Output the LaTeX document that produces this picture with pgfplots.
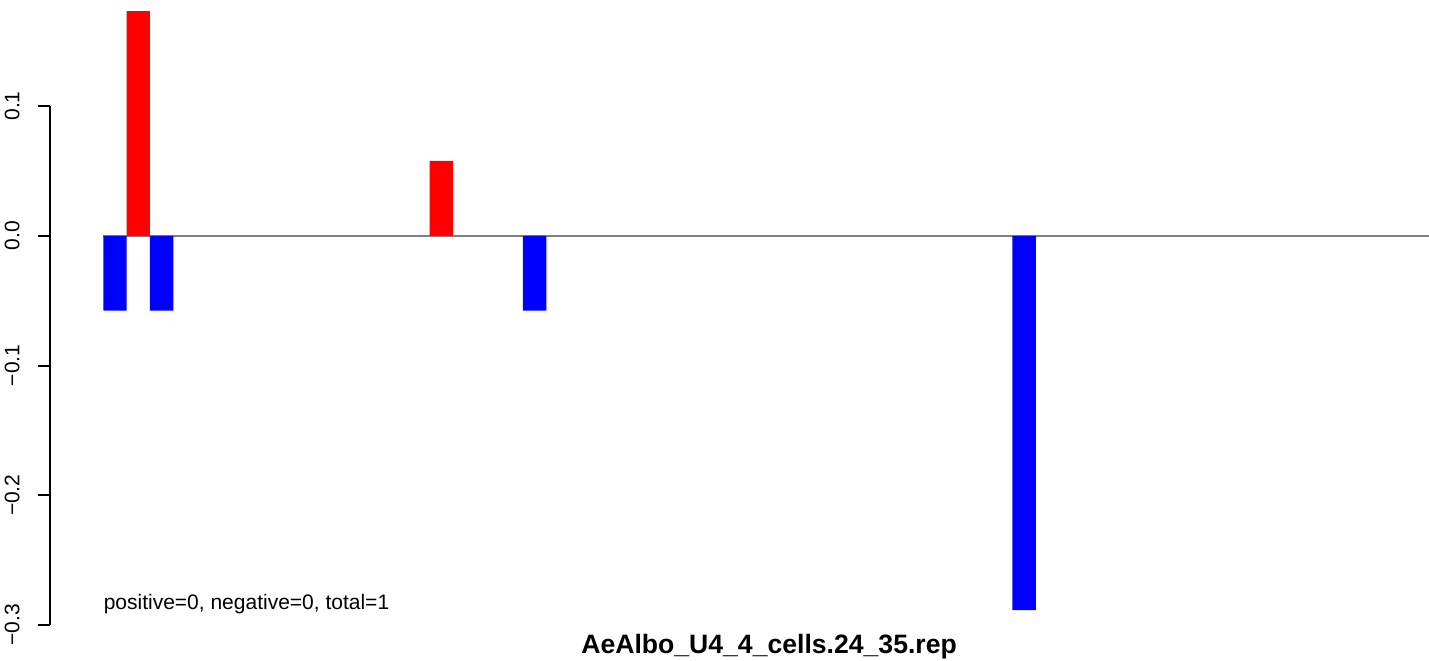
\documentclass[border=0pt]{standalone}
\usepackage{pgfplots}
\pgfplotsset{compat=1.18}
\usepackage{fontspec}
\setmainfont{Liberation Sans}
\begin{document}
\begin{tikzpicture}
\begin{axis}[
  scale only axis,
  width=689.5pt, height=312.5pt,
  xmin=-2.79, xmax=56.37,
  ymin=-0.3, ymax=0.1817,
  clip=false,
  axis lines*=left,
  axis line style={draw=none},
  xtick=\empty,
  ytick={-0.3,-0.2,-0.1,0,0.1},
  yticklabels={−0.3,−0.2,−0.1,0.0,0.1},
  tick align=outside,
  major tick length=6pt,
  ytick style={black, line width=1pt},
  yticklabel style={rotate=90, anchor=south, font=\fontsize{10.5}{12}\selectfont, inner xsep=0pt, inner ysep=9pt},
  /pgf/number format/assume math mode=true,
]
\draw[line width=1pt] (axis cs:-2.79,-0.3) -- (axis cs:-2.79,0.1);
\addplot[gray, line width=1pt] coordinates {(-0.5,0) (56.37,0)};
\addplot[ybar, bar width=1, fill=red, draw=none] coordinates {(1,0.1731) (14,0.0577)};
\addplot[ybar, bar width=1, fill=blue, draw=none] coordinates {(0,-0.0577) (2,-0.0577) (18,-0.0577) (39,-0.2885)};
\node[anchor=base west, inner sep=0pt, font=\fontsize{10.5}{12}\selectfont] at (axis cs:-0.5,-0.2878) {positive=0, negative=0, total=1};
\node[anchor=base, inner sep=0pt, font=\fontsize{13.3}{15}\selectfont\bfseries] at (axis cs:28.06,-0.3217) {AeAlbo\_U4\_4\_cells.24\_35.rep};
\end{axis}
\pgfresetboundingbox
\path[use as bounding box] (current axis.south west) ++(-25pt,-17.5pt) rectangle (current axis.north east);
\end{tikzpicture}
\end{document}
